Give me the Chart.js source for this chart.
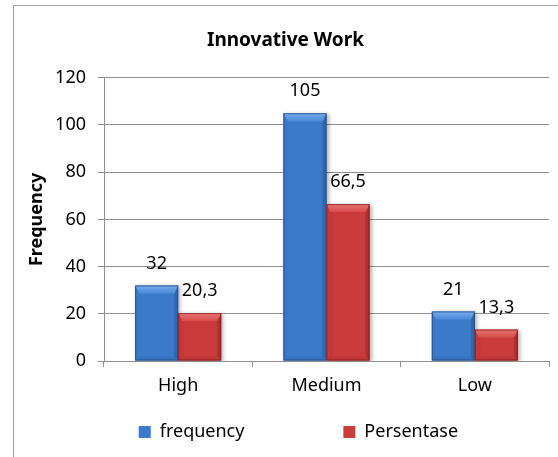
<!DOCTYPE html>
<html>
<head>
<meta charset="utf-8">
<script src="https://cdn.jsdelivr.net/npm/chart.js@4.4.0/dist/chart.umd.min.js"></script>
<style>
  html, body { margin: 0; padding: 0; background: #fff; overflow: hidden; }
  #wrap { position: relative; width: 558px; height: 457px; }
  #frame { position: absolute; left: 13px; top: 5px; width: 580px; height: 480px; border: 1px solid #a0a0a0; pointer-events: none; }
</style>
</head>
<body>
<div id="wrap">
  <canvas id="chart" width="558" height="457"></canvas>
  <div id="frame"></div>
</div>
<script>
const categories = ['High', 'Medium', 'Low'];
const frequency = [32, 105, 21];
const persentase = [20.3, 66.5, 13.3];
const seriesNames = ['frequency', 'Persentase'];
const yTicks = [0, 20, 40, 60, 80, 100, 120];

const FONT = '"Noto Sans", "Open Sans", sans-serif';
const gridColor = '#8f8f8f';

// bevel shades per series
const shades = [
    { body: '#3b79c9', top: '#74abeb', topEnd: '#4c8bd8', left: '#3a77c6', right: '#3067ae', bottom: '#3772c0', edge: 'rgba(30,70,130,0.7)' },
    { body: '#ca3b3b', top: '#e97474', topEnd: '#d64c4c', left: '#c63939', right: '#ad2f2f', bottom: '#c03636', edge: 'rgba(120,25,25,0.7)' }
];

// legend spacing: pad the label text with spaces so items sit where the original has them
const measureCtx = document.createElement('canvas').getContext('2d');
measureCtx.font = '18px ' + FONT;
function padTo(text, width) {
    const n = Math.max(0, Math.round((width - measureCtx.measureText(text).width) / measureCtx.measureText(' ').width));
    return text + ' '.repeat(n);
}

function poly(ctx, pts, fill) {
    ctx.beginPath();
    ctx.moveTo(pts[0][0], pts[0][1]);
    for (let i = 1; i < pts.length; i++) ctx.lineTo(pts[i][0], pts[i][1]);
    ctx.closePath();
    ctx.fillStyle = fill;
    ctx.fill();
}

const shadowPlugin = {
    id: 'shadowPlugin',
    beforeDatasetsDraw(chart) {
        const ctx = chart.ctx;
        ctx.save();
        ctx.shadowColor = 'rgba(0,0,0,0.3)';
        ctx.shadowBlur = 4;
        ctx.shadowOffsetX = 2;
        ctx.shadowOffsetY = 1;
    },
    afterDatasetsDraw(chart) {
        chart.ctx.restore();
    }
};

const bevelPlugin = {
    id: 'bevelPlugin',
    afterDatasetsDraw(chart) {
        const ctx = chart.ctx;
        chart.data.datasets.forEach((ds, i) => {
            const c = shades[i];
            chart.getDatasetMeta(i).data.forEach(bar => {
                const l = bar.x - bar.width / 2, r = bar.x + bar.width / 2;
                const t = bar.y, b = bar.base;
                const d = Math.min(8, (b - t) / 2);
                const s = Math.min(4, d);
                ctx.save();
                poly(ctx, [[l, t], [l + s, t + d], [l + s, b - s], [l, b]], c.left);
                poly(ctx, [[r, t], [r, b], [r - s, b - s], [r - s, t + d]], c.right);
                poly(ctx, [[l, b], [l + s, b - s], [r - s, b - s], [r, b]], c.bottom);
                const g = ctx.createLinearGradient(0, t, 0, t + d);
                g.addColorStop(0, c.top);
                g.addColorStop(1, c.topEnd);
                poly(ctx, [[l, t], [r, t], [r - s, t + d], [l + s, t + d]], g);
                ctx.strokeStyle = c.edge;
                ctx.lineWidth = 1;
                ctx.strokeRect(l + 0.5, t + 0.5, r - l - 1, b - t - 1);
                ctx.restore();
            });
        });
    }
};

const labelPlugin = {
    id: 'labelPlugin',
    afterDatasetsDraw(chart) {
        const ctx = chart.ctx;
        ctx.save();
        ctx.font = '18px ' + FONT;
        ctx.fillStyle = '#000';
        ctx.textAlign = 'center';
        ctx.textBaseline = 'middle';
        chart.data.datasets.forEach((ds, i) => {
            chart.getDatasetMeta(i).data.forEach((bar, j) => {
                const txt = String(ds.data[j]).replace('.', ',');
                ctx.fillText(txt, bar.x, bar.y - 22);
            });
        });
        ctx.restore();
    }
};

const ctx = document.getElementById('chart').getContext('2d');
const chart = new Chart(ctx, {
    type: 'bar',
    data: {
        labels: categories,
        datasets: [
            { label: seriesNames[0], data: frequency, backgroundColor: shades[0].body, borderWidth: 0 },
            { label: seriesNames[1], data: persentase, backgroundColor: shades[1].body, borderWidth: 0 }
        ]
    },
    options: {
        responsive: false,
        animation: false,
        events: [],
        layout: { padding: { left: 22, right: 9, top: 0, bottom: 6 } },
        datasets: { bar: { categoryPercentage: 0.58, barPercentage: 1 } },
        plugins: {
            title: {
                display: true,
                text: 'Innovative Work',
                color: '#000',
                font: { family: FONT, size: 19, weight: 'bold' },
                padding: { top: 29, bottom: 26 }
            },
            legend: {
                position: 'bottom',
                fullSize: false,
                labels: {
                    color: '#000',
                    font: { family: FONT, size: 18 },
                    boxWidth: 12,
                    boxHeight: 12,
                    padding: 10,
                    generateLabels(ch) {
                        const items = Chart.defaults.plugins.legend.labels.generateLabels(ch);
                        items[0].text = padTo(items[0].text, 174);
                        items[1].text = padTo(items[1].text, 150);
                        return items;
                    }
                }
            },
            tooltip: { enabled: false }
        },
        scales: {
            x: {
                grid: { display: true, drawOnChartArea: false, drawTicks: true, tickLength: 6, color: gridColor, offset: true },
                border: { display: true, color: gridColor },
                ticks: { color: '#000', font: { family: FONT, size: 18 }, padding: 8 },
                afterFit(scale) { scale.height = 52; }
            },
            y: {
                min: 0,
                max: 120,
                afterBuildTicks(scale) { scale.ticks = yTicks.map(v => ({ value: v })); },
                grid: { color: gridColor, tickLength: 6, drawTicks: true },
                border: { display: true, color: gridColor },
                ticks: { color: '#000', font: { family: FONT, size: 18 }, padding: 12 },
                title: {
                    display: true,
                    text: 'Frequency',
                    color: '#000',
                    font: { family: FONT, size: 18, weight: 'bold' },
                    padding: { top: 4, bottom: 0 }
                },
                afterFit(scale) { scale.width = 82; }
            }
        }
    },
    plugins: [shadowPlugin, bevelPlugin, labelPlugin]
});
</script>
</body>
</html>
